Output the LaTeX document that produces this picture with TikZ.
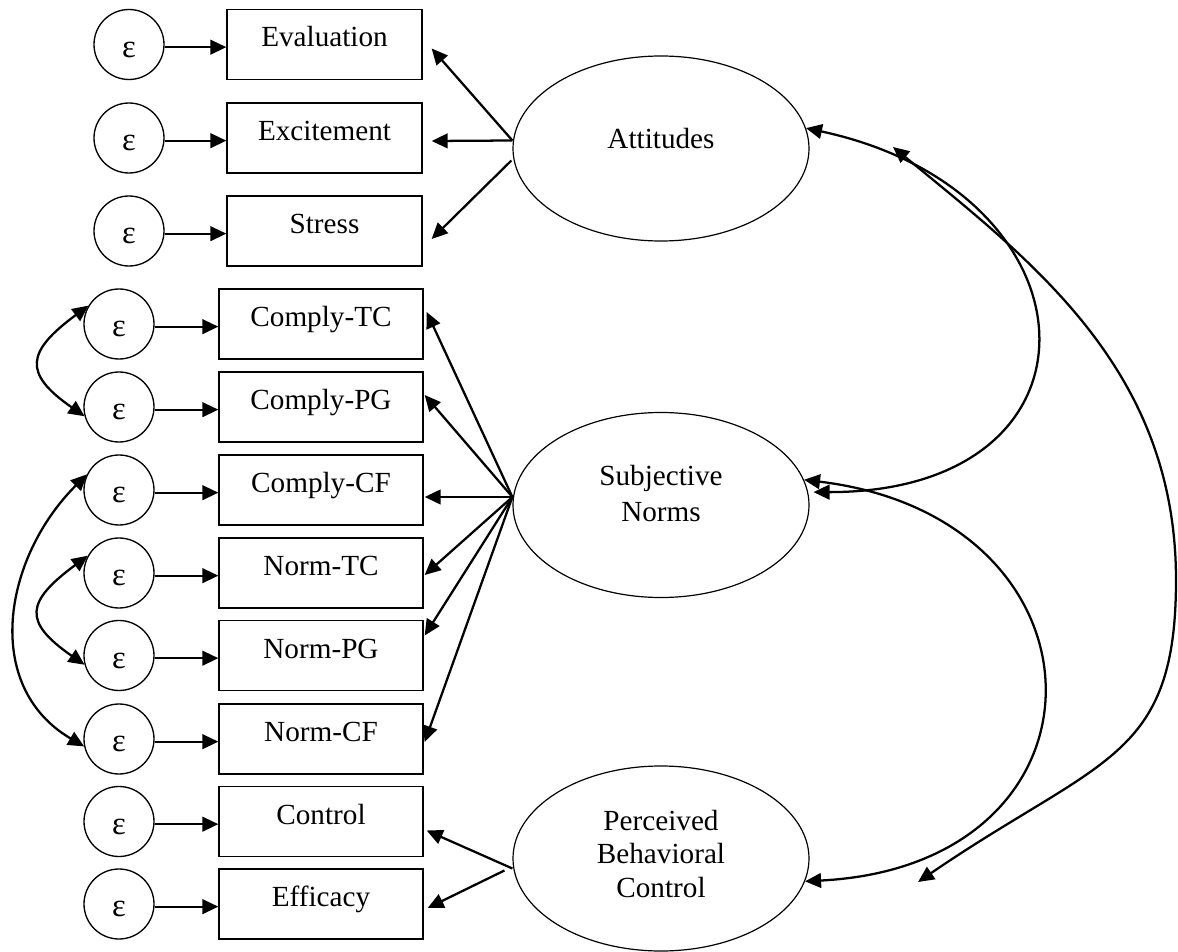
\documentclass[tikz,border=0pt]{standalone}
\usepackage{fontspec}
\setmainfont{Liberation Serif}
\usetikzlibrary{arrows.meta,shapes.geometric,calc}
\begin{document}
\begin{tikzpicture}[x=0.75pt,y=-0.75pt,
  every node/.style={font=\fontsize{21.9}{25}\selectfont},
  obs/.style={draw,line width=1pt,rectangle,minimum height=52.5pt,inner sep=0pt,
    text height=15pt,text depth=11.25pt},
  obsA/.style={obs,minimum width=146.25pt},
  obsB/.style={obs,minimum width=153pt},
  err/.style={draw,line width=1pt,circle,minimum size=52.5pt,inner sep=0pt,
    font=\fontsize{24.5}{28}\selectfont,text height=18.8pt,text depth=0pt},
  latent/.style={draw,line width=0.9pt,ellipse,minimum width=222pt,
    minimum height=138.75pt,inner sep=0pt},
  arr/.style={line width=1.7pt,-{Triangle[length=12pt,width=11pt]}},
  cov/.style={line width=1.7pt,{Triangle[length=12pt,width=11pt]}-{Triangle[length=12pt,width=11pt]}}
]
\useasboundingbox (0,0) rectangle (1178,952);

% attitude indicators
\node[err]  (e1) at (129,44.5) {ε};
\node[obsA] (b1) at (324.5,44.5) {Evaluation};
\node[err]  (e2) at (129,138) {ε};
\node[obsA] (b2) at (324.5,138) {Excitement};
\node[err]  (e3) at (129,231) {ε};
\node[obsA] (b3) at (324.5,231) {Stress};

% subjective norm indicators
\node[err]  (e4) at (119,324) {ε};
\node[obsB] (b4) at (321,324) {Comply-TC};
\node[err]  (e5) at (119,407) {ε};
\node[obsB] (b5) at (321,407) {Comply-PG};
\node[err]  (e6) at (119,490) {ε};
\node[obsB] (b6) at (321,490) {Comply-CF};
\node[err]  (e7) at (119,573) {ε};
\node[obsB] (b7) at (321,573) {Norm-TC};
\node[err]  (e8) at (119,655.5) {ε};
\node[obsB] (b8) at (321,655.5) {Norm-PG};
\node[err]  (e9) at (119,739) {ε};
\node[obsB] (b9) at (321,739) {Norm-CF};

% perceived behavioral control indicators
\node[err]  (e10) at (119,821.5) {ε};
\node[obsB] (b10) at (321,821.5) {Control};
\node[err]  (e11) at (119,904) {ε};
\node[obsB] (b11) at (321,904) {Efficacy};

% latent factors
\node[latent,label={[yshift=7.5pt]center:Attitudes}] (att) at (661,148.5) {};
\node[latent,label={[yshift=8.25pt,align=center]center:{Subjective\\[2pt]Norms}}] (sn) at (661,505) {};
\node[latent,label={[yshift=3.4pt,align=center]center:{Perceived\\Behavioral\\Control}}] (pbc) at (661,858.5) {};

% error terms
\foreach \i in {1,...,11}{
  \draw[arr] ([yshift=-2pt]e\i.east) -- ([yshift=-2pt]b\i.west);
}

% loadings
\draw[arr] ($(att.west)+(0,-8)$) -- ($(b1.east)+(9,4)$);
\draw[arr] ($(att.west)+(0,-8)$) -- ($(b2.east)+(9,3)$);
\draw[arr] ($(att.west)+(-1,12)$) -- ($(b3.east)+(9,8)$);

\draw[arr] ($(sn.west)+(0,-8)$) -- ($(b4.east)+(3,-12)$);
\draw[arr] ($(sn.west)+(0,-8)$) -- ($(b5.east)+(1,-12)$);
\draw[arr] ($(sn.west)+(0,-8)$) -- ($(b6.east)+(1,7)$);
\draw[arr] ($(sn.west)+(0,-8)$) -- ($(b7.east)+(1,2)$);
\draw[arr] ($(sn.west)+(0,-8)$) -- ($(b8.east)+(1,-20)$);
\draw[arr] ($(sn.west)+(0,-8)$) -- ($(b9.east)+(1,3)$);

\draw[arr] ($(pbc.west)+(0,10)$) -- ($(b10.east)+(3,9)$);
\draw[arr] ($(pbc.west)+(-8,12)$) -- ($(b11.east)+(4,4)$);

% correlated errors
\draw[cov] (e4.149) .. controls +(-62,46) and +(-62,-43) .. (e5.-165);
\draw[cov] (e7.151) .. controls +(-62,46) and +(-62,-43) .. (e8.-165);
\draw[cov] (e6.154) .. controls +(-84,84) and +(-102,-60) .. (e9.-168);

% factor covariances
\coordinate (bTop) at (893,147);
\coordinate (bMid) at (1176,580);
\coordinate (bBot) at (918,882);
\draw[cov] (att.8) .. controls +(298,64) and +(304,0) .. ([xshift=4pt]sn.5);
\draw[cov] (sn.10) .. controls +(315,38) and +(318,-16) .. (pbc.-9);
\draw[cov] (bTop) .. controls +(140,115) and +(0,-210) .. (bMid)
  .. controls +(0,180) and +(183,-125) .. (bBot);
\end{tikzpicture}
\end{document}
